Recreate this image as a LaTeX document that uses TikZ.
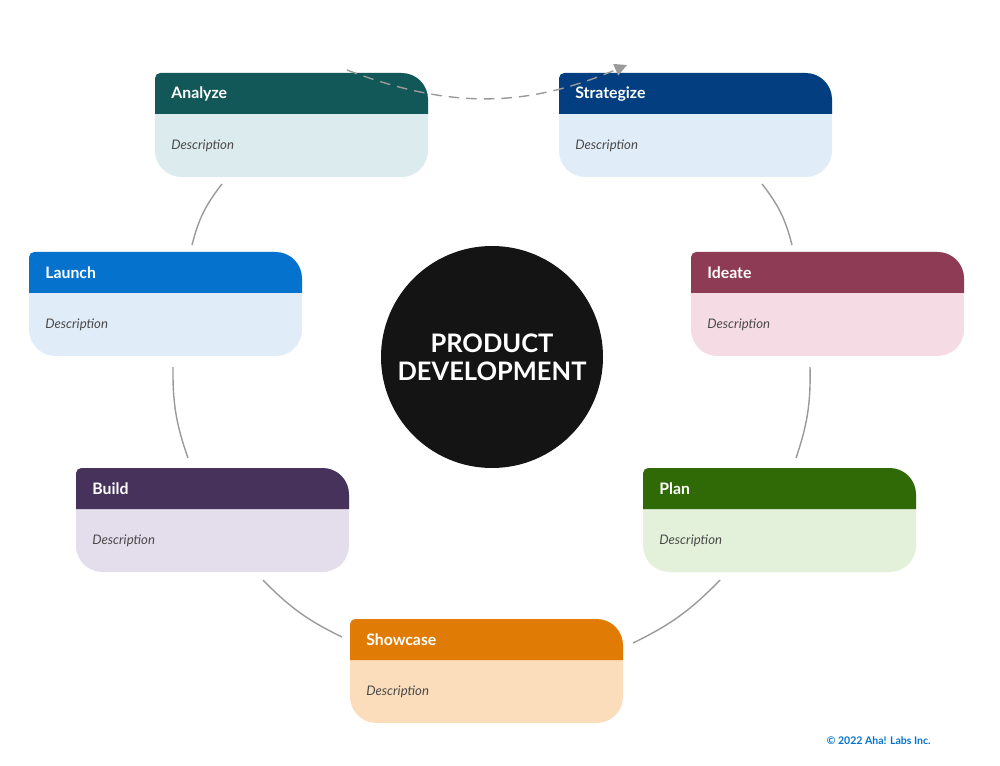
\documentclass[tikz,border=0pt]{standalone}
\usepackage{fontspec}
\setmainfont{Lato}
\usetikzlibrary{arrows.meta}

\definecolor{analyzehd}{HTML}{135858}\definecolor{analyzebg}{HTML}{DCEBEE}
\definecolor{strathd}{HTML}{033F80}\definecolor{stratbg}{HTML}{E0ECF7}
\definecolor{launchhd}{HTML}{0573CE}\definecolor{launchbg}{HTML}{E0ECF7}
\definecolor{ideatehd}{HTML}{8E3B55}\definecolor{ideatebg}{HTML}{F5DCE4}
\definecolor{buildhd}{HTML}{46325A}\definecolor{buildbg}{HTML}{E4DDEC}
\definecolor{planhd}{HTML}{306A06}\definecolor{planbg}{HTML}{E3F1DA}
\definecolor{showhd}{HTML}{E07C05}\definecolor{showbg}{HTML}{FBDDBB}
\definecolor{descgray}{HTML}{4A4A4A}
\definecolor{linkgray}{HTML}{9A9A9A}

\tikzset{
  stagetitle/.style={anchor=west, text=white, font=\fontsize{9}{11}\selectfont\bfseries, inner sep=0pt},
  stagedesc/.style={anchor=west, text=descgray, font=\fontsize{7.5}{9}\selectfont\itshape, inner sep=0pt},
  conn/.style={draw=linkgray, line width=0.8pt},
}

% stage box: name, left x, top y, title, header colour, body colour
\newcommand\stage[6]{%
  \fill[#6, rounded corners=15] (#2,#3) rectangle ++(273,104);
  \fill[#5] (#2,#3+41) [rounded corners=3] -- (#2,#3) [rounded corners=15] -- (#2+273,#3) [sharp corners] -- (#2+273,#3+41) -- cycle;
  \node[stagetitle] (#1) at (#2+16,#3+21) {#4};
  \node[stagedesc] (#1-desc) at (#2+16,#3+73) {Description};
}

\begin{document}
\begin{tikzpicture}[x=0.02cm, y=-0.02cm]
  \useasboundingbox (0,0) rectangle (1000,766);

  \stage{analyze}{155}{73}{Analyze}{analyzehd}{analyzebg}
  \stage{strategize}{559}{73}{Strategize}{strathd}{stratbg}
  \stage{launch}{29}{252}{Launch}{launchhd}{launchbg}
  \stage{ideate}{691}{252}{Ideate}{ideatehd}{ideatebg}
  \stage{build}{76}{468}{Build}{buildhd}{buildbg}
  \stage{plan}{643}{468}{Plan}{planhd}{planbg}
  \stage{showcase}{350}{619}{Showcase}{showhd}{showbg}

  \node[circle, fill=black!92, minimum size=222*0.02cm, text=white,
        align=center, font=\fontsize{14.5}{16}\selectfont\bfseries] (center) at (492,357)
        {PRODUCT\\DEVELOPMENT};

  % link ends
  \coordinate (a1) at (222,184); \coordinate (l1) at (192,245);
  \coordinate (s1) at (762,184); \coordinate (i1) at (792,245);
  \coordinate (l2) at (173,367); \coordinate (b1) at (188,458);
  \coordinate (i2) at (810,367); \coordinate (p1) at (796,458);
  \coordinate (b2) at (263,580); \coordinate (sh1) at (342,637);
  \coordinate (p2) at (720,580); \coordinate (sh2) at (633,643);
  \coordinate (top1) at (347,70); \coordinate (top2) at (627,65);

  \draw[conn] (a1) to[bend right=12] (l1);
  \draw[conn] (s1) to[bend left=12] (i1);
  \draw[conn] (l2) to[bend right=10] (b1);
  \draw[conn] (i2) to[bend left=10] (p1);
  \draw[conn] (b2) to[bend right=10] (sh1);
  \draw[conn] (p2) to[bend left=10] (sh2);
  \draw[conn, dashed, dash pattern=on 6pt off 4pt, -{Triangle[length=7pt,width=7pt]}]
    (top1) to[bend right=22] (top2);

  \node[anchor=east, text=launchhd, font=\fontsize{6}{7}\selectfont\bfseries, inner sep=0pt]
    (copy) at (931,741) {© 2022 Aha! Labs Inc.};
\end{tikzpicture}
\end{document}
